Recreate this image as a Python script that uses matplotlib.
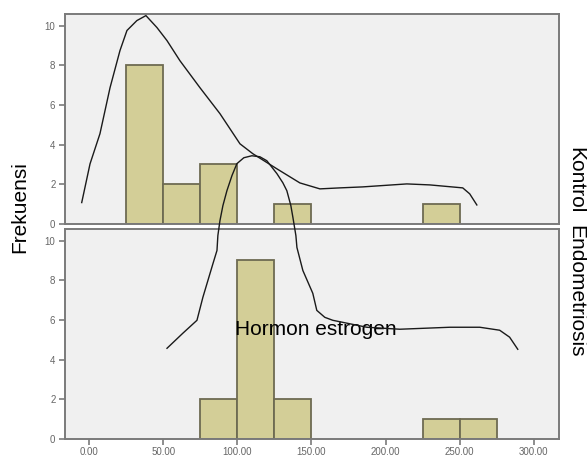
import numpy as np
import matplotlib
matplotlib.use("Agg")
import matplotlib.pyplot as plt

plt.rcParams['font.family'] = ['Liberation Sans', 'DejaVu Sans']

# ------- data -------
bin_width = 25.0
kontrol_bins = [25, 50, 75, 125, 225]
kontrol_counts = [8, 2, 3, 1, 1]
endo_bins = [75, 100, 125, 225, 250]
endo_counts = [2, 9, 2, 1, 1]

x_ticks = [0, 50, 100, 150, 200, 250, 300]
x_tick_labels = ["0.00", "50.00", "100.00", "150.00", "200.00", "250.00", "300.00"]
y_ticks = [0, 2, 4, 6, 8, 10]

# hand-drawn curves (traced points)
kontrol_curve_x = [-4.9, 0.7, 7.4, 14.2, 20.9, 25.6, 32.3, 38.4, 45.8, 52.6, 61.3,
                   74.8, 88.3, 101.8, 110.5, 126.7, 142.2, 155.7, 169.1, 184.6,
                   214.3, 229.8, 252.0, 256.7, 261.5]
kontrol_curve_y = [1.08, 3.03, 4.55, 6.87, 8.74, 9.75, 10.25, 10.5, 9.9, 9.24, 8.23,
                   6.87, 5.56, 4.04, 3.54, 2.78, 2.07, 1.77, 1.82, 1.87,
                   2.02, 1.97, 1.82, 1.52, 0.96]

endo_curve_x = [52.6, 63.3, 72.8, 76.8, 83.6, 86.3, 86.9, 88.3, 90.3, 93.0, 96.4,
                99.7, 104.4, 109.8, 115.2, 119.9, 126.7, 130.7, 133.4, 136.1,
                137.5, 139.5, 140.2, 144.2, 150.9, 153.6, 159.0, 164.4, 187.3,
                209.6, 243.3, 263.5, 276.9, 283.6, 289.1]
endo_curve_y = [4.57, 5.33, 5.98, 7.14, 8.84, 9.50, 10.25, 11.0, 11.76, 12.51, 13.27,
                13.87, 14.17, 14.27, 14.22, 14.02, 13.37, 12.91, 12.51, 11.76,
                11.16, 10.25, 9.65, 8.49, 7.34, 6.48, 6.13, 5.98, 5.63,
                5.53, 5.63, 5.63, 5.48, 5.13, 4.52]

# ------- styling -------
bar_face = "#d3ce97"
bar_edge = "#6e6b52"
panel_bg = "#f0f0f0"
spine_col = "#7a7a7a"
tick_col = "#666666"

fig = plt.figure(figsize=(5.87, 4.58), dpi=100)
ax_top = fig.add_axes([0.1099, 0.5109, 0.8424, 0.4585])
ax_bot = fig.add_axes([0.1099, 0.0415, 0.8424, 0.4585])

for ax in (ax_top, ax_bot):
    ax.set_facecolor(panel_bg)
    ax.set_xlim(-16.5, 316.9)
    ax.set_ylim(0, 10.58)
    for s in ax.spines.values():
        s.set_color(spine_col)
        s.set_linewidth(1.4)
    ax.set_yticks(y_ticks)
    ax.tick_params(axis="y", direction="out", length=4.5, width=1.2, color=spine_col,
                   labelsize=7, labelcolor=tick_col, pad=2)

ax_top.bar(kontrol_bins, kontrol_counts, width=bin_width, align="edge",
           color=bar_face, edgecolor=bar_edge, linewidth=1.3, zorder=2)
ax_bot.bar(endo_bins, endo_counts, width=bin_width, align="edge",
           color=bar_face, edgecolor=bar_edge, linewidth=1.3, zorder=2)

ax_top.set_xticks([])
ax_bot.set_xticks(x_ticks)
ax_bot.set_xticklabels(x_tick_labels)
ax_bot.tick_params(axis="x", direction="out", length=4, width=1.2, color=spine_col,
                   labelsize=7, labelcolor=tick_col, pad=2)

ax_top.plot(kontrol_curve_x, kontrol_curve_y, color="#1a1a1a", linewidth=1.0,
            clip_on=False, zorder=4)

ax_bot.text(98.4, 5.23, "Hormon estrogen", fontsize=15, ha="left", va="baseline",
            color="black", zorder=5)
ax_bot.plot(endo_curve_x, endo_curve_y, color="#1a1a1a", linewidth=1.0,
            clip_on=False, zorder=6)

fig.text(19.5 / 587, 1 - 207.5 / 458, "Frekuensi", rotation=90, fontsize=15,
         ha="center", va="center")
fig.text(576 / 587, 1 - 180.5 / 458, "Kontrol", rotation=270, fontsize=15,
         ha="center", va="center")
fig.text(576 / 587, 1 - 291.5 / 458, "Endometriosis", rotation=270, fontsize=15,
         ha="center", va="center")

fig.savefig("out.png", dpi=100)
